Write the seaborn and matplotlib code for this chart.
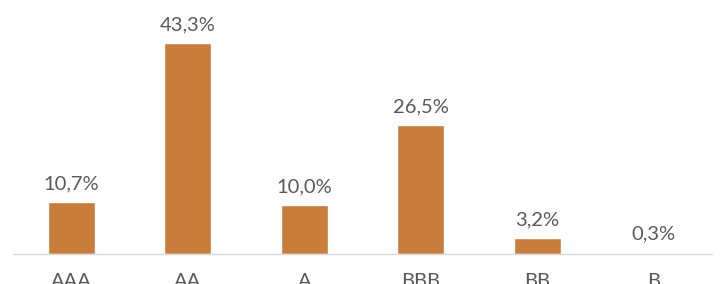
import matplotlib
matplotlib.use("Agg")
import matplotlib.pyplot as plt
import seaborn as sns
import pandas as pd

ratings = ["AAA", "AA", "A", "BBB", "BB", "B"]
shares = [10.7, 43.3, 10.0, 26.5, 3.2, 0.3]
labels = ["10,7%", "43,3%", "10,0%", "26,5%", "3,2%", "0,3%"]

df = pd.DataFrame({"rating": ratings, "share": shares})

sns.set_style("white")
plt.rcParams["font.family"] = ["Lato", "DejaVu Sans"]

fig = plt.figure(figsize=(7.2, 2.84), dpi=100)
ax = fig.add_axes([13 / 720, 30 / 284, 699 / 720, 254 / 284])

sns.barplot(data=df, x="rating", y="share", color="#C87D3A", saturation=1,
            width=0.4, ax=ax)

for p, lab in zip(ax.patches, labels):
    ax.annotate(lab, (p.get_x() + p.get_width() / 2, p.get_height()),
                xytext=(0, 7), textcoords="offset points",
                ha="center", va="bottom", fontsize=14.5, color="#595959")

ax.set_ylim(0, 52.15)
ax.set_xlim(-0.5, 5.5)
ax.set_xlabel("")
ax.set_ylabel("")
ax.set_yticks([])
for s in ["top", "right", "left"]:
    ax.spines[s].set_visible(False)
ax.spines["bottom"].set_color("#D9D9D9")
ax.spines["bottom"].set_linewidth(1)
ax.tick_params(axis="x", length=0, pad=14, labelsize=14.5, labelcolor="#595959")

fig.savefig("out.png", dpi=100)
